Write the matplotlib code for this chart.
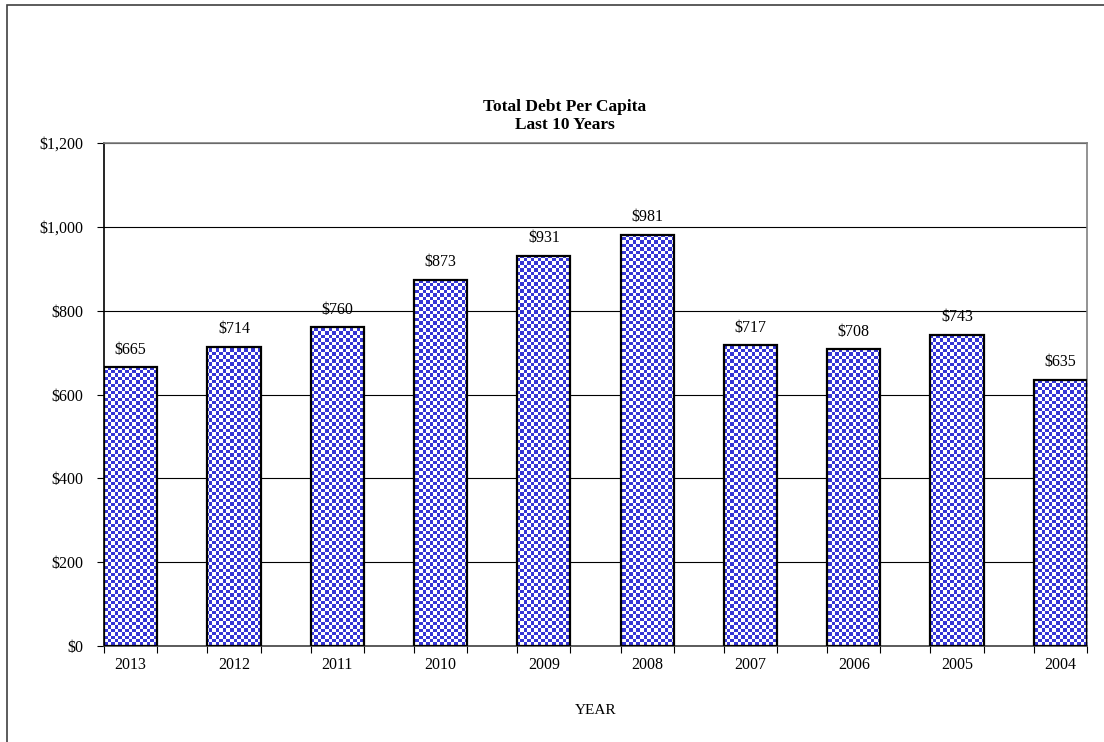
import matplotlib
matplotlib.use("Agg")
import matplotlib.pyplot as plt
import numpy as np
from matplotlib.colors import ListedColormap
from matplotlib.patches import Rectangle

years = ["2013", "2012", "2011", "2010", "2009", "2008", "2007", "2006", "2005", "2004"]
debt = [665, 714, 760, 873, 931, 981, 717, 708, 743, 635]
y_ticks = [0, 200, 400, 600, 800, 1000, 1200]

plt.rcParams['font.family'] = ['Liberation Serif', 'DejaVu Serif']

fig = plt.figure(figsize=(11.04, 7.42), dpi=100)
ax = fig.add_axes([104 / 1104, 1 - 646 / 742, 983 / 1104, 503 / 742])

bw = 0.515
x = np.arange(len(years))
bars = ax.bar(x, debt, width=bw, facecolor='none', edgecolor='black', linewidth=1.6, zorder=3)

# checkerboard fill, clipped to each bar
ny, nx = 144, 281
yy, xx = np.mgrid[0:ny, 0:nx]
board = (xx + yy) % 2
cmap = ListedColormap(['white', '#3535d5'])
for b in bars:
    im = ax.imshow(board, cmap=cmap, interpolation='nearest', aspect='auto',
                   extent=[0, 1, 0, 1], transform=ax.transAxes, zorder=2)
    im.set_clip_path(b)

ax.set_xlim(-bw / 2, len(years) - 1 + bw / 2)
ax.set_ylim(0, 1200)

for xi, v in zip(x, debt):
    ax.annotate(f"${v:,}", (xi, v), xytext=(0, 7), textcoords='offset points',
                ha='center', va='bottom', fontsize=11.5)

ax.set_yticks(y_ticks)
ax.set_yticklabels([f"${v:,}" for v in y_ticks], fontsize=11.5)
ax.yaxis.grid(True, color='black', linewidth=0.8)
ax.set_axisbelow(True)

ax.set_xticks(x)
ax.set_xticklabels(years, fontsize=11.5)
ax.tick_params(axis='x', which='major', length=0, pad=8)
edges = np.concatenate([x - bw / 2, x + bw / 2])
ax.set_xticks(edges, minor=True)
ax.tick_params(axis='x', which='minor', length=5, width=0.8, direction='out')
ax.tick_params(axis='y', length=5, width=0.8, direction='out', pad=10)

ax.spines['top'].set_color('#808080')
ax.spines['right'].set_color('#808080')
ax.spines['left'].set_color('black')
ax.spines['bottom'].set_color('#404040')
for s in ax.spines.values():
    s.set_linewidth(1.2)

ax.set_xlabel("YEAR", fontsize=11, labelpad=22)

fig.text(565 / 1104, 1 - 107 / 742, "Total Debt Per Capita", ha='center', va='center',
         fontsize=12.5, fontweight='bold')
fig.text(565 / 1104, 1 - 125 / 742, "Last 10 Years", ha='center', va='center',
         fontsize=12.5, fontweight='bold')

fig.patches.append(Rectangle((7 / 1104, -0.05), 1.1, 1.05 - 5 / 742, transform=fig.transFigure,
                             fill=False, edgecolor='#404040', linewidth=1.2))

fig.savefig("out.png", dpi=100)
